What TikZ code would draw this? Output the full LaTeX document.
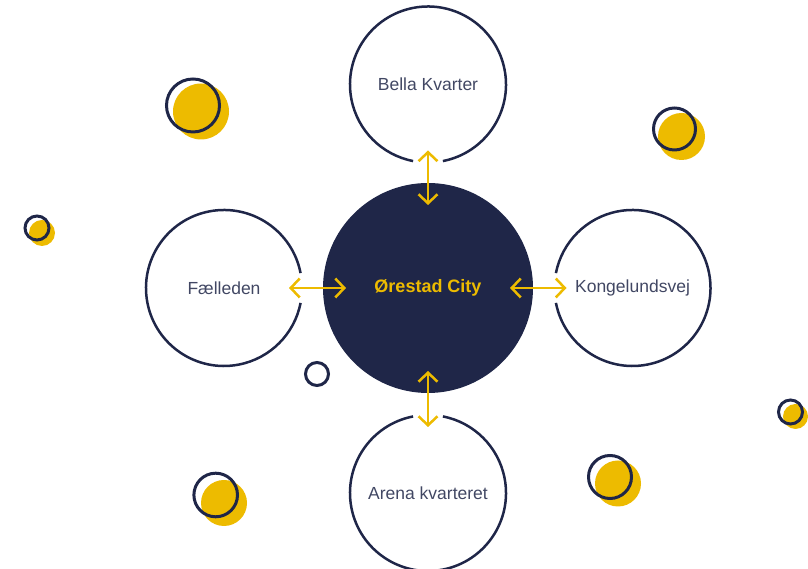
\documentclass[tikz,border=0pt]{standalone}
\usepackage{fontspec}
\setmainfont{Liberation Sans}
\usetikzlibrary{calc,arrows.meta}
\definecolor{navy}{HTML}{1F2648}
\definecolor{gold}{HTML}{EDBB00}
\tikzstyle{place} = [circle, minimum size=156pt, inner sep=0pt, outer sep=0pt, text=navy!85, font=\fontsize{17.5}{20}\selectfont]
\tikzstyle{hub} = [circle, minimum size=210pt, inner sep=0pt, outer sep=0pt, fill=navy, text=gold, font=\fontsize{18}{21}\selectfont\bfseries]
\tikzstyle{ring} = [draw=navy, line width=2.5pt]
\tikzstyle{link} = [gold, line width=2.5pt, {Straight Barb[length=9pt,width=19pt]}-{Straight Barb[length=9pt,width=19pt]}]
\tikzstyle{bubble} = [draw=navy, line width=3pt]

\begin{document}
\begin{tikzpicture}[x=1pt, y=1pt]
        \useasboundingbox (0,0) rectangle (808,569);
        \node[hub] (city) at (428,281) {Ørestad City};
        \node[place] (bella) at (428,484.5) {Bella Kvarter};
        \node[place] (arena) at (428,76) {Arena kvarteret};
        \node[place] (faelled) at (224,281) {Fælleden};
        \node[place] (kongelund) at (632.5,281) {Kongelundsvej};
        \foreach \n/\a in {bella/-90, arena/90, faelled/0, kongelund/180}
            \draw[ring] ($(\n)+(\a+11:78pt)$) arc[start angle=\a+11, delta angle=338, radius=78pt];
        \draw[link, shorten <=-12pt, shorten >=-22pt] (bella) -- (city);
        \draw[link, shorten <=-12pt, shorten >=-22pt] (arena) -- (city);
        \draw[link, shorten <=-13pt, shorten >=-23pt] (faelled) -- (city);
        \draw[link, shorten <=-12pt, shorten >=-23pt] (kongelund) -- (city);
        % bubbles
        \fill[gold] (201,457.5) circle (28pt); \draw[bubble] (193,463.5) circle (26.5pt);
        \fill[gold] (681.5,432.5) circle (23.5pt); \draw[bubble] (674.5,440) circle (21pt);
        \fill[gold] (42,336) circle (13pt); \draw[bubble] (37,341) circle (12pt);
        \draw[bubble] (317,195) circle (11.5pt);
        \fill[gold] (795.5,152.5) circle (12.5pt); \draw[bubble] (790.5,157) circle (12pt);
        \fill[gold] (224,66) circle (23pt); \draw[bubble] (215.7,74) circle (21.8pt);
        \fill[gold] (618,85.5) circle (23pt); \draw[bubble] (610,92) circle (21.5pt);
\end{tikzpicture}
\end{document}
